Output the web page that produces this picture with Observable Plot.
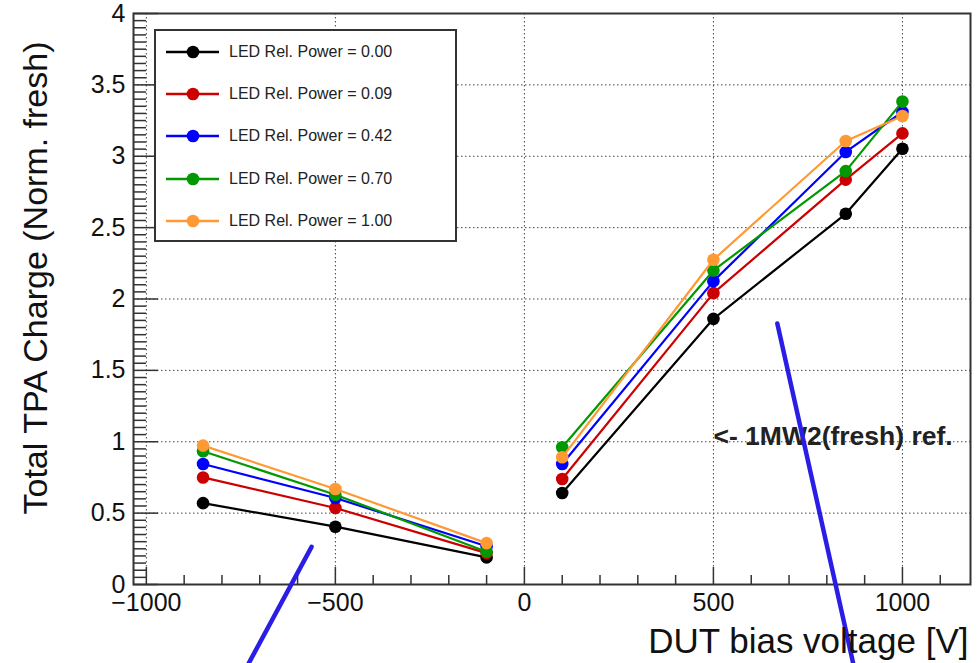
<!DOCTYPE html>
<html><head><meta charset="utf-8">
<script src="https://cdn.jsdelivr.net/npm/d3@7"></script>
<script src="https://cdn.jsdelivr.net/npm/@observablehq/plot@0.6"></script>
<style>
body{margin:0;background:#fff;font-family:"Liberation Sans",Arial,Helvetica,sans-serif;}
#wrap{position:relative;width:978px;height:663px;overflow:hidden;background:#fff;}
#legend{position:absolute;left:154px;top:29px;width:303px;height:213px;border:2px solid #333;background:#fff;box-sizing:border-box;}
.row{position:absolute;left:0;height:20px;width:290px;}
.row svg{position:absolute;left:10px;top:0;}
.row span{position:absolute;left:73px;top:0;line-height:20px;font-size:16px;color:#222;white-space:nowrap;}
</style></head><body><div id="wrap"></div>
<script>
// ---- data ----
const voltages = [-850, -500, -100, 100, 500, 850, 1000];
const seriesLabels = ["LED Rel. Power = 0.00", "LED Rel. Power = 0.09", "LED Rel. Power = 0.42", "LED Rel. Power = 0.70", "LED Rel. Power = 1.00"];
const seriesColors = ["#000000", "#cc0000", "#0000ff", "#009900", "#ff9933"];
const charge000 = [0.570, 0.405, 0.190, 0.641, 1.861, 2.597, 3.053];
const charge009 = [0.750, 0.536, 0.220, 0.739, 2.041, 2.836, 3.160];
const charge042 = [0.844, 0.606, 0.268, 0.844, 2.125, 3.030, 3.310];
const charge070 = [0.933, 0.629, 0.230, 0.961, 2.200, 2.896, 3.383];
const charge100 = [0.973, 0.669, 0.290, 0.891, 2.275, 3.107, 3.282];
const chargeSeries = [charge000, charge009, charge042, charge070, charge100];
const xTickValues = [-1000, -500, 0, 500, 1000];
const yTickValues = [0, 0.5, 1, 1.5, 2, 2.5, 3, 3.5, 4];
const xTitle = "DUT bias voltage [V]";
const yTitle = "Total TPA Charge (Norm. fresh)";
const annotationText = ["<- 1MW2(fresh) ref."];
const annotationX = [500];
const annotationY = [1.0];
const penStroke1X = [-563, -730];
const penStroke1Y = [0.264, -0.556];
const penStroke2X = [669, 870];
const penStroke2Y = [1.828, -0.556];

// ---- layout ----
const W = 978, H = 663;
const mL = 133, mR = 8, mT = 13, mB = 79;
const fw = W - mL - mR, fh = H - mT - mB;
const xDomain = [-1034, 1180];
const yDomain = [0, 4];

const xMinor = d3.range(-1000, 1101, 100).filter(v => v % 500 !== 0);
const yMinor = d3.range(0, 81).map(i => i * 0.05).filter(v => Math.abs(v * 2 - Math.round(v * 2)) > 1e-6);

const rows = [];
chargeSeries.forEach((arr, s) => arr.forEach((c, i) => rows.push({s, v: voltages[i], c, seg: s + (voltages[i] < 0 ? "n" : "p")})));

const font = "Liberation Sans, Arial, sans-serif";
const marks = [
  Plot.gridX(xTickValues, {stroke: "#444", strokeOpacity: 1, strokeWidth: 1, strokeDasharray: "1.5,2.5"}),
  Plot.gridY(yTickValues.filter(v => v > 0 && v < 4), {stroke: "#444", strokeOpacity: 1, strokeWidth: 1, strokeDasharray: "1.5,2.5"}),
  Plot.tickY(yMinor, {y: d => d, stroke: "#333", strokeWidth: 1.5, insetRight: fw - 13}),
  Plot.tickY(yTickValues, {y: d => d, stroke: "#333", strokeWidth: 1.5, insetRight: fw - 25}),
  Plot.tickX(xMinor, {x: d => d, stroke: "#333", strokeWidth: 1.5, insetTop: fh - 9}),
  Plot.tickX(xTickValues, {x: d => d, stroke: "#333", strokeWidth: 1.5, insetTop: fh - 17}),
  Plot.frame({stroke: "#333", strokeWidth: 2}),
  Plot.axisX({ticks: xTickValues, tickSize: 0, tickPadding: 9, fontSize: 25, label: null, fill: "#111",
    tickFormat: d => (d < 0 ? "\u2212" : "") + Math.abs(d)}),
  Plot.axisY({ticks: yTickValues, tickSize: 0, tickPadding: 8, fontSize: 25, label: null, fill: "#111",
    tickFormat: d => String(d)})
];
seriesColors.forEach((col, s) => {
  const r = rows.filter(d => d.s === s);
  marks.push(Plot.line(r, {x: "v", y: "c", z: "seg", stroke: col, strokeWidth: 2.2}));
  marks.push(Plot.dot(r, {x: "v", y: "c", r: 6.3, fill: col, stroke: "none"}));
});
marks.push(
  Plot.text(annotationText, {x: (d, i) => annotationX[i], y: (d, i) => annotationY[i], text: d => d, textAnchor: "start",
    dx: 0, dy: -5, fontSize: 26.5, fontWeight: "bold", fill: "#222", fontFamily: font}),
  Plot.line(penStroke1X.map((x, i) => ({x, y: penStroke1Y[i]})), {x: "x", y: "y", stroke: "#2a1de6", strokeWidth: 4.5, clip: false}),
  Plot.line(penStroke2X.map((x, i) => ({x, y: penStroke2Y[i]})), {x: "x", y: "y", stroke: "#2a1de6", strokeWidth: 4.5, clip: false}),
  Plot.text([yTitle], {frameAnchor: "left", text: d => d, rotate: -90, textAnchor: "middle", dx: -97, dy: -21, fontSize: 34, fill: "#111", fontFamily: font}),
  Plot.text([xTitle], {frameAnchor: "bottom-right", text: d => d, textAnchor: "end", dx: -2, dy: 68, fontSize: 35, fill: "#111", fontFamily: font})
);

const chart = Plot.plot({
  width: W, height: H,
  marginLeft: mL, marginRight: mR, marginTop: mT, marginBottom: mB,
  style: {fontFamily: font, background: "#fff", overflow: "visible"},
  x: {domain: xDomain, axis: null},
  y: {domain: yDomain, axis: null},
  marks
});
const wrap = document.getElementById("wrap");
wrap.appendChild(chart);

// legend
const leg = document.createElement("div");
leg.id = "legend";
seriesLabels.forEach((lab, i) => {
  const row = document.createElement("div");
  row.className = "row";
  row.style.top = (22.7 + i * 42.3 - 10 - 2) + "px";
  row.innerHTML = `<svg width="60" height="20"><line x1="0" y1="10" x2="53" y2="10" stroke="${seriesColors[i]}" stroke-width="2.5"/><circle cx="27" cy="10" r="6.3" fill="${seriesColors[i]}"/></svg><span>${lab}</span>`;
  leg.appendChild(row);
});
wrap.appendChild(leg);
</script></body></html>
